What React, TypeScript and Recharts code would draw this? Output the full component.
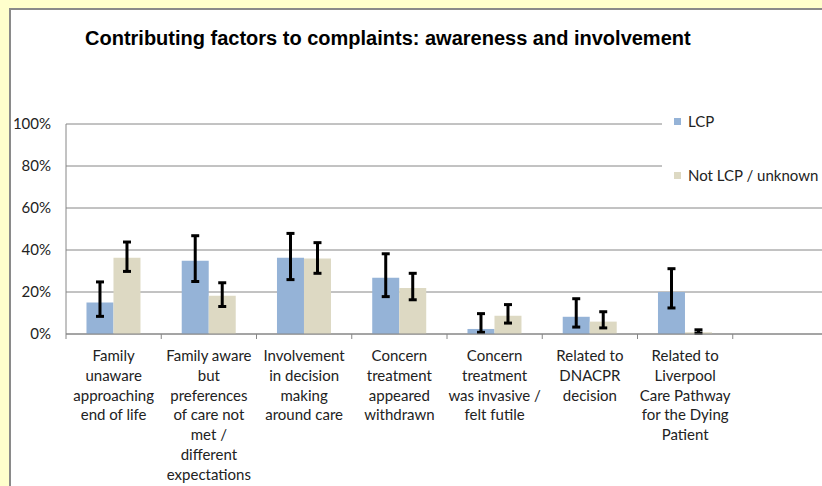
import { BarChart, Bar, XAxis, YAxis, CartesianGrid, ErrorBar } from 'recharts';

const categories = [
  ['Family', 'unaware', 'approaching', 'end of life'],
  ['Family aware', 'but', 'preferences', 'of care not', 'met /', 'different', 'expectations'],
  ['Involvement', 'in decision', 'making', 'around care'],
  ['Concern', 'treatment', 'appeared', 'withdrawn'],
  ['Concern', 'treatment', 'was invasive /', 'felt futile'],
  ['Related to', 'DNACPR', 'decision'],
  ['Related to', 'Liverpool', 'Care Pathway', 'for the Dying', 'Patient'],
  [],
];

// percentages, with lower / upper ends of the error bars
const lcp = [15.0, 34.9, 36.3, 26.8, 2.4, 8.2, 20.0, null];
const lcpLow = [8.4, 25.0, 25.9, 17.8, 0.8, 3.3, 12.4, null];
const lcpHigh = [24.8, 46.8, 47.9, 38.2, 9.7, 16.8, 31.1, null];

const notLcp = [36.3, 18.2, 35.9, 21.9, 8.7, 5.9, 0.8, null];
const notLcpLow = [29.8, 13.1, 28.9, 16.3, 5.2, 2.9, 0.4, null];
const notLcpHigh = [43.8, 24.4, 43.5, 28.9, 14.0, 10.6, 2.0, null];

const yTicks = [0, 20, 40, 60, 80, 100];

const BLUE = '#95b3d7';
const BEIGE = '#ddd9c3';
const FONT = 'Lato, "Open Sans", sans-serif';

const data = categories.map((c, i) => ({
  name: String(i),
  lcp: lcp[i],
  lcpErr: lcp[i] == null ? [0, 0] : [lcp[i]! - lcpLow[i]!, lcpHigh[i]! - lcp[i]!],
  notLcp: notLcp[i],
  notLcpErr: notLcp[i] == null ? [0, 0] : [notLcp[i]! - notLcpLow[i]!, notLcpHigh[i]! - notLcp[i]!],
}));

function CategoryTick(props: any) {
  const { x, y, payload } = props;
  const half = payload.offset ?? 47.6;
  const lines = categories[Number(payload.value)] ?? [];
  return (
    <g>
      <line x1={x - half} x2={x - half} y1={y - 8} y2={y - 3} stroke="#868686" />
      <text x={x} y={y + 19} textAnchor="middle" fontSize={15} fontFamily={FONT} fill="#222">
        {lines.map((l, i) => (
          <tspan key={i} x={x} dy={i === 0 ? 0 : 19.8}>{l}</tspan>
        ))}
      </text>
    </g>
  );
}

export default function App() {
  return (
    <div style={{ position: 'absolute', left: 0, top: 0, width: 822, height: 486, overflow: 'hidden', background: '#ffffcc' }}>
      <div style={{ position: 'absolute', left: 9, top: 8, width: 840, height: 500, background: '#fff', borderLeft: '2px solid #8a8a8a', borderTop: '2px solid #8a8a8a' }} />
      <div style={{ position: 'absolute', left: 0, top: 0 }}>
        <BarChart
          width={840}
          height={486}
          data={data}
          margin={{ top: 124, right: 12, bottom: 0, left: 10 }}
          barCategoryGap="21.5%"
          barGap={0}
        >
          <CartesianGrid vertical={false} stroke="#868686" strokeWidth={1} />
          <XAxis
            dataKey="name"
            height={152}
            tickLine={false}
            axisLine={{ stroke: '#868686' }}
            tick={<CategoryTick />}
            interval={0}
          />
          <YAxis
            width={56}
            domain={[0, 100]}
            ticks={yTicks}
            tickFormatter={(v) => `${v}%`}
            axisLine={{ stroke: '#868686' }}
            tickLine={false}
            tickMargin={9}
            tick={{ fontSize: 15, fontFamily: FONT, fill: '#222' }}
          />
          <Bar dataKey="lcp" fill={BLUE} isAnimationActive={false}>
            <ErrorBar dataKey="lcpErr" stroke="#000" strokeWidth={3} width={4} />
          </Bar>
          <Bar dataKey="notLcp" fill={BEIGE} isAnimationActive={false}>
            <ErrorBar dataKey="notLcpErr" stroke="#000" strokeWidth={3} width={4} />
          </Bar>
        </BarChart>
      </div>
      <div style={{ position: 'absolute', left: 85, top: 27, fontFamily: '"Liberation Sans", Arial, sans-serif', fontWeight: 'bold', fontSize: 20, color: '#000', whiteSpace: 'nowrap' }}>
        Contributing factors to complaints: awareness and involvement
      </div>
      <div style={{ position: 'absolute', left: 662, top: 108, width: 170, height: 80, background: '#fff', fontFamily: FONT, fontSize: 15, color: '#222' }}>
        <div style={{ position: 'absolute', left: 12, top: 4, display: 'flex', alignItems: 'center' }}>
          <span style={{ width: 7, height: 7, background: BLUE, marginRight: 7 }} />LCP
        </div>
        <div style={{ position: 'absolute', left: 12, top: 58, display: 'flex', alignItems: 'center', whiteSpace: 'nowrap' }}>
          <span style={{ width: 7, height: 7, background: BEIGE, marginRight: 7 }} />Not LCP / unknown
        </div>
      </div>
    </div>
  );
}
